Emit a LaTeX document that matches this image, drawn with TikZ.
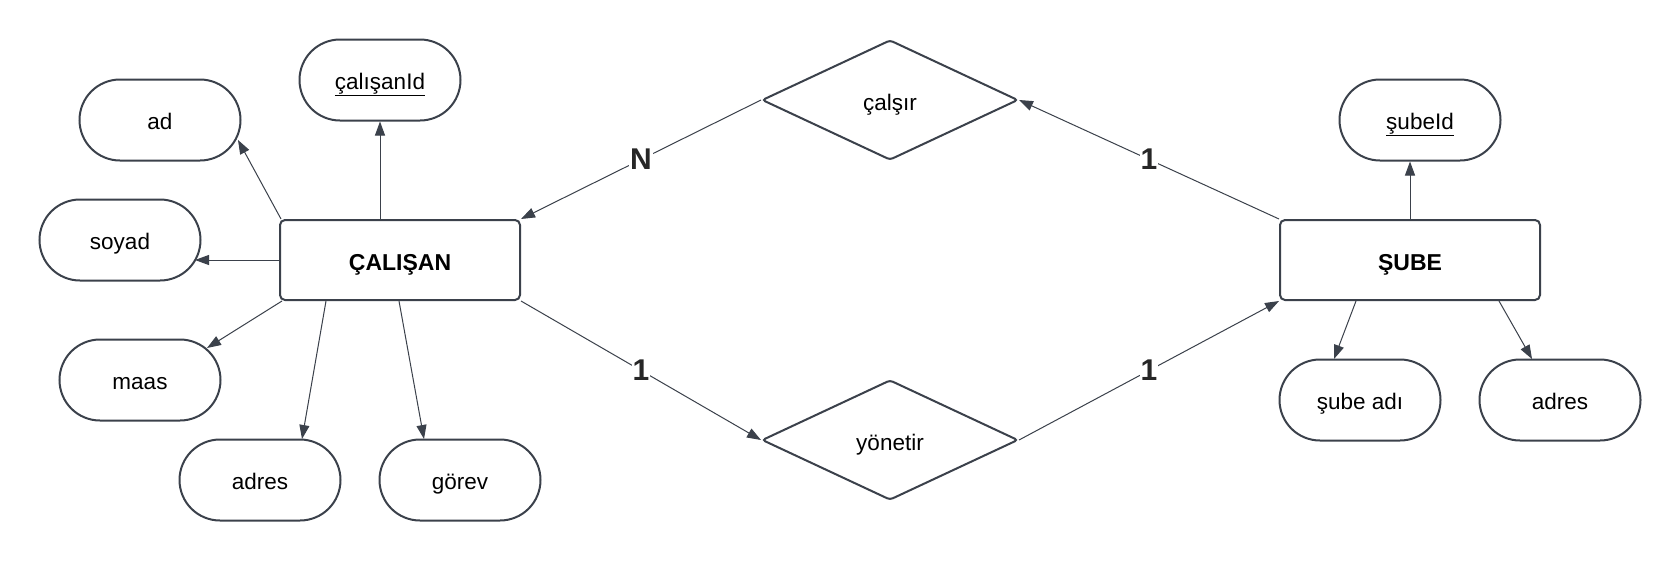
\documentclass[tikz,border=0pt]{standalone}
\usepackage{fontspec}
\setmainfont{Liberation Sans}
\usetikzlibrary{arrows.meta,shapes.geometric,shapes.misc,calc}
\definecolor{ln}{HTML}{3B414B}
\begin{document}
\begin{tikzpicture}[x=1pt,y=-1pt,
  attr/.style={rounded rectangle, draw=ln, line width=2pt, minimum width=161pt, minimum height=81pt, inner sep=0pt, text height=22pt, text depth=4pt, font=\fontsize{22.5}{27}\selectfont},
  ent/.style={draw=ln, line width=2pt, rounded corners=5pt, minimum height=80pt, inner sep=0pt, text height=24pt, text depth=4pt, font=\bfseries\fontsize{23}{27}\selectfont},
  rel/.style={diamond, draw=ln, line width=2pt, rounded corners=3pt, minimum width=256pt, minimum height=120pt, inner sep=0pt, text height=24pt, text depth=4pt, font=\fontsize{22.5}{27}\selectfont},
  conn/.style={draw=ln, line width=1pt, -{Triangle[length=14pt,width=10pt]}},
  card/.style={fill=white, inner sep=1pt, text=black!85, font=\bfseries\fontsize{30}{32}\selectfont}
]
\useasboundingbox[fill=white] (0,0) rectangle (1680,560);

% entities
\node[ent, minimum width=240pt] (cal) at (400,260) {ÇALIŞAN};
\node[ent, minimum width=260pt] (sube) at (1410,260) {ŞUBE};

% relationships
\node[rel] (cals) at (890,100) {çalşır};
\node[rel] (yon) at (890,440) {yönetir};

% attributes of ÇALIŞAN
\node[attr] (cid) at (380,80) {\underline{çalışanId}};
\node[attr] (ad) at (160,120) {ad};
\node[attr] (soy) at (120,240) {soyad};
\node[attr] (maas) at (140,380) {maas};
\node[attr] (adr1) at (260,480) {adres};
\node[attr] (gor) at (460,480) {görev};

% attributes of ŞUBE
\node[attr] (sid) at (1420,120) {\underline{şubeId}};
\node[attr] (sad) at (1360,400) {şube adı};
\node[attr] (adr2) at (1560,400) {adres};

% attribute connectors
\draw[conn] (cal.north -| cid) -- (cid.south);
\draw[conn] ($(cal.north west)+(2,0)$) -- ($(ad.center)+(78,20)$);
\draw[conn] (cal.west) -- ($(soy.center)+(75,20)$);
\draw[conn] ($(cal.south west)+(3,0)$) -- ($(maas.center)+(67,-32)$);
\draw[conn] ($(cal.south)+(-74,0)$) -- ($(adr1.center)+(42,-41)$);
\draw[conn] ($(cal.south)+(-1,0)$) -- ($(gor.center)+(-36,-41)$);
\draw[conn] (sube.north) -- (sube.north |- sid.south);
\draw[conn] ($(sube.south)+(-54,0)$) -- ($(sad.center)+(-26,-41)$);
\draw[conn] ($(sube.south)+(89,0)$) -- ($(adr2.center)+(-28,-41)$);

% relationship connectors
\draw[conn] (cals.west) -- node[card]{N} (cal.north east);
\draw[conn] (cal.south east) -- node[card]{1} (yon.west);
\draw[conn] (sube.north west) -- node[card]{1} (cals.east);
\draw[conn] (yon.east) -- node[card]{1} (sube.south west);
\end{tikzpicture}
\end{document}
